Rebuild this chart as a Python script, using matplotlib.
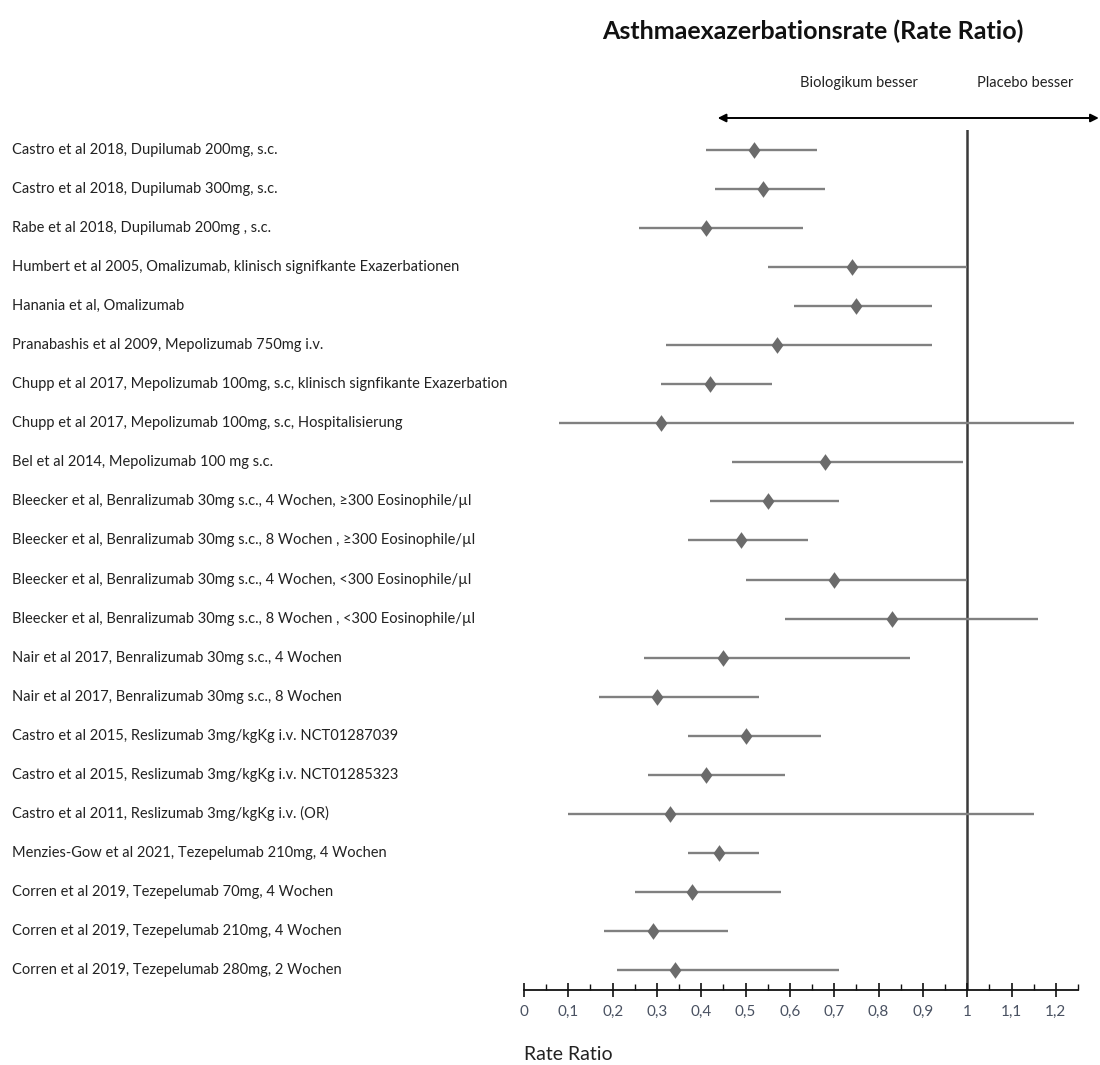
import numpy as np
import matplotlib
matplotlib.use("Agg")
import matplotlib.pyplot as plt
import matplotlib.transforms as mtransforms
from matplotlib.path import Path

plt.rcParams['font.family'] = ['Lato', 'DejaVu Sans']

# ---------------- data ----------------
studies = [
    "Castro et al 2018, Dupilumab 200mg, s.c.",
    "Castro et al 2018, Dupilumab 300mg, s.c.",
    "Rabe et al 2018, Dupilumab 200mg , s.c.",
    "Humbert et al 2005, Omalizumab, klinisch signifkante Exazerbationen",
    "Hanania et al, Omalizumab",
    "Pranabashis et al 2009, Mepolizumab 750mg i.v.",
    "Chupp et al 2017, Mepolizumab 100mg, s.c, klinisch signfikante Exazerbation",
    "Chupp et al 2017, Mepolizumab 100mg, s.c, Hospitalisierung",
    "Bel et al 2014, Mepolizumab 100 mg s.c.",
    "Bleecker et al, Benralizumab 30mg s.c., 4 Wochen, \u2265300 Eosinophile/\u00b5l",
    "Bleecker et al, Benralizumab 30mg s.c., 8 Wochen , \u2265300 Eosinophile/\u00b5l",
    "Bleecker et al, Benralizumab 30mg s.c., 4 Wochen, <300 Eosinophile/\u00b5l",
    "Bleecker et al, Benralizumab 30mg s.c., 8 Wochen , <300 Eosinophile/\u00b5l",
    "Nair et al 2017, Benralizumab 30mg s.c., 4 Wochen",
    "Nair et al 2017, Benralizumab 30mg s.c., 8 Wochen",
    "Castro et al 2015, Reslizumab 3mg/kgKg i.v. NCT01287039",
    "Castro et al 2015, Reslizumab 3mg/kgKg i.v. NCT01285323",
    "Castro et al 2011, Reslizumab 3mg/kgKg i.v. (OR)",
    "Menzies-Gow et al 2021, Tezepelumab 210mg, 4 Wochen",
    "Corren et al 2019, Tezepelumab 70mg, 4 Wochen",
    "Corren et al 2019, Tezepelumab 210mg, 4 Wochen",
    "Corren et al 2019, Tezepelumab 280mg, 2 Wochen",
]
rate_ratio = [0.52, 0.54, 0.41, 0.74, 0.75, 0.57, 0.42, 0.31, 0.68, 0.55, 0.49,
              0.70, 0.83, 0.45, 0.30, 0.50, 0.41, 0.33, 0.44, 0.38, 0.29, 0.34]
ci_low = [0.41, 0.43, 0.26, 0.55, 0.61, 0.32, 0.31, 0.08, 0.47, 0.42, 0.37,
          0.50, 0.59, 0.27, 0.17, 0.37, 0.28, 0.10, 0.37, 0.25, 0.18, 0.21]
ci_high = [0.66, 0.68, 0.63, 1.00, 0.92, 0.92, 0.56, 1.24, 0.99, 0.71, 0.64,
           1.00, 1.16, 0.87, 0.53, 0.67, 0.59, 1.15, 0.53, 0.58, 0.46, 0.71]
tick_values = [0, 0.1, 0.2, 0.3, 0.4, 0.5, 0.6, 0.7, 0.8, 0.9, 1.0, 1.1, 1.2]
tick_labels = ["0", "0,1", "0,2", "0,3", "0,4", "0,5", "0,6", "0,7", "0,8", "0,9",
               "1", "1,1", "1,2"]

title = "Asthmaexazerbationsrate (Rate Ratio)"
left_text = "Biologikum besser"
right_text = "Placebo besser"
xlabel = "Rate Ratio"

# ---------------- figure ----------------
W, H = 1100, 1065
fig = plt.figure(figsize=(W / 100, H / 100), dpi=100)
ax_left = 524 / W
ax_right = 1078 / W
ax_bottom = 1 - 990 / H
ax_top = 1 - 130 / H
ax = fig.add_axes([ax_left, ax_bottom, ax_right - ax_left, ax_top - ax_bottom])

n = len(studies)
ypos = np.arange(n)[::-1]

line_col = '#808080'
mark_col = '#6b6b6b'
ax.hlines(ypos, ci_low, ci_high, color=line_col, lw=1.7, zorder=2)

diamond = Path([(0, 1), (0.72, 0), (0, -1), (-0.72, 0), (0, 1)],
               [Path.MOVETO, Path.LINETO, Path.LINETO, Path.LINETO, Path.CLOSEPOLY])
ax.plot(rate_ratio, ypos, linestyle='none', marker=diamond, markersize=12,
        color=mark_col, markeredgewidth=0, zorder=3)

ax.axvline(1.0, color='#3a3a3a', lw=1.8, zorder=1)

ax.set_xlim(0, 1.25)
ax.set_ylim(-0.512, n - 1 + 0.512)

for s in ['left', 'top', 'right']:
    ax.spines[s].set_visible(False)
ax.spines['bottom'].set_linewidth(1.3)
ax.spines['bottom'].set_color('#111111')
ax.set_yticks([])
ax.set_xticks(tick_values)
ax.set_xticklabels(tick_labels)
ax.set_xticks(np.arange(0.05, 1.26, 0.1), minor=True)
ax.tick_params(axis='x', which='major', direction='inout', length=10, width=1.2,
               color='#111111', labelsize=11, labelcolor='#4a5262', pad=6)
ax.tick_params(axis='x', which='minor', direction='in', length=4, width=1.0,
               color='#111111')

# study labels
trans = mtransforms.blended_transform_factory(fig.transFigure, ax.transData)
for lab, yy in zip(studies, ypos):
    ax.text(12 / W, yy, lab, transform=trans, ha='left', va='center',
            fontsize=10.5, color='#222222')

# arrow
xa_trans = ax.get_xaxis_transform()
ay = 1 + 12 / 860
ax.annotate('', xy=(1.297, ay), xytext=(0.437, ay), xycoords=xa_trans,
            textcoords=xa_trans,
            arrowprops=dict(arrowstyle='<|-|>', color='black', lw=1.4,
                            mutation_scale=12, shrinkA=0, shrinkB=0),
            annotation_clip=False)

fig.text(859 / W, 1 - 83 / H, left_text, ha='center', va='center', fontsize=10.5,
         color='#222222')
fig.text(1025 / W, 1 - 83 / H, right_text, ha='center', va='center', fontsize=10.5,
         color='#222222')
fig.text(813 / W, 1 - 31 / H, title, ha='center', va='center', fontsize=18,
         fontweight='bold', color='#111111')
fig.text(524 / W, 1 - 1055 / H, xlabel, ha='left', va='center', fontsize=14,
         color='#222222')

fig.savefig('out.png', dpi=100, facecolor='white')
